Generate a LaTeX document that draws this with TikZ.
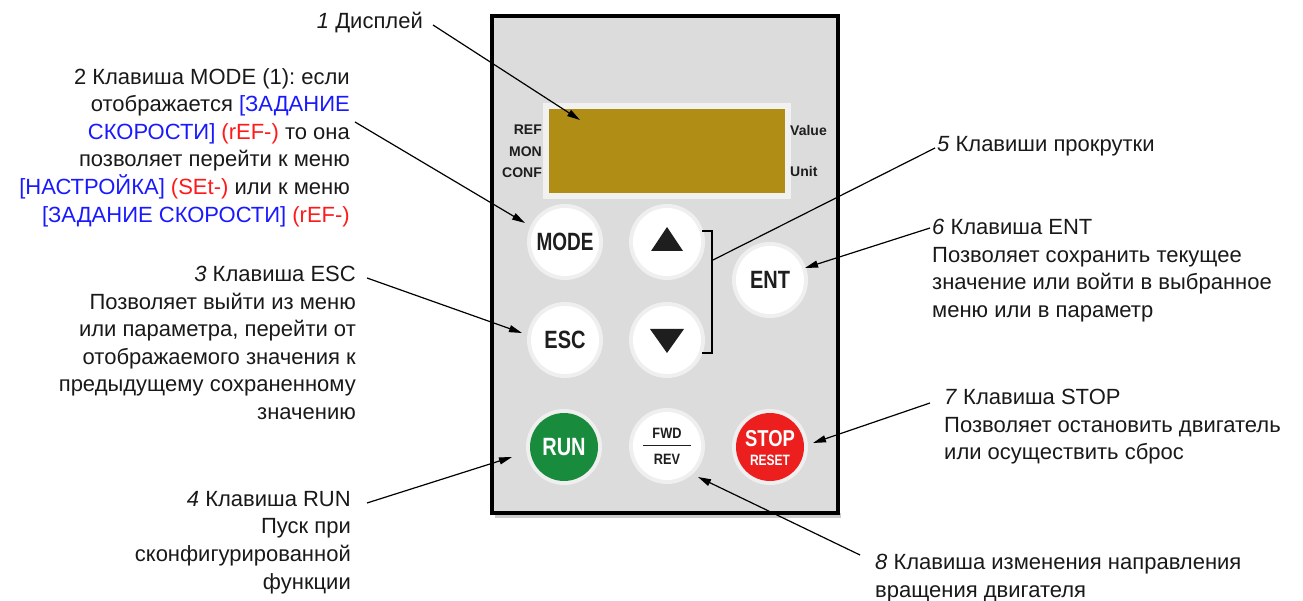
\documentclass[tikz,border=0pt]{standalone}
\usepackage{fontspec}
\setmainfont{Liberation Sans}
\usetikzlibrary{arrows.meta}
\definecolor{txtblue}{RGB}{25,25,255}
\definecolor{txtred}{RGB}{255,25,25}
\definecolor{panelgray}{RGB}{220,220,221}
\definecolor{lcdfill}{RGB}{176,142,22}
\definecolor{runGreen}{RGB}{24,140,60}
\definecolor{stopRed}{RGB}{236,30,30}
\definecolor{keyInk}{RGB}{30,30,30}
\frenchspacing
\begin{document}
\begin{tikzpicture}[x=1pt,y=-1pt,
  lbl/.style={inner sep=0pt, text=black!90, font=\fontsize{22}{27.6}\selectfont},
  lblR/.style={lbl, align=right, anchor=north east},
  lblL/.style={lbl, align=left, anchor=north west},
  conn/.style={line width=1.2pt, -{Triangle[length=13pt,width=7pt]}},
  plainconn/.style={line width=1.2pt},
  keyhalo/.style={circle, fill=white!55!panelgray, minimum size=76pt, inner sep=0pt},
  keybtn/.style={circle, fill=white, minimum size=68pt, inner sep=0pt, text=keyInk,
    font=\fontsize{25}{25}\bfseries\selectfont},
  keysmall/.style={inner sep=0pt, text=keyInk, font=\fontsize{15}{15}\bfseries\selectfont},
  lcdlbl/.style={inner sep=0pt, text=keyInk, font=\fontsize{14}{14}\bfseries\selectfont}
]
\useasboundingbox (0,0) rectangle (1303,601);

% panel
\fill[gray!40] (495,513) rectangle (841,518);
\draw[line width=3.5pt, fill=panelgray] (492,16) rectangle (838,513);

% display
\fill[white!60!panelgray] (543,103) rectangle (791,199);
\node[fill=lcdfill, minimum width=236pt, minimum height=84pt, inner sep=0pt] (lcd) at (667,151) {};
\node[lcdlbl, anchor=east] (ref) at (542,130) {REF};
\node[lcdlbl, anchor=east] (mon) at (542,152) {MON};
\node[lcdlbl, anchor=east] (conf) at (542,173) {CONF};
\node[lcdlbl, anchor=west] (val) at (790,130) {Value};
\node[lcdlbl, anchor=west] (unit) at (790,171) {Unit};

% keys
\node[keyhalo] (hmode) at (565,242) {};
\node[keybtn] (mode) at (565,242) {\scalebox{0.76}[1]{MODE}};
\node[keyhalo] (hup) at (667,242) {};
\node[keybtn] (up) at (667,242) {};
\fill[keyInk] (651,251) -- (683,251) -- (667,227) -- cycle;
\node[keyhalo] (hent) at (770,280) {};
\node[keybtn] (ent) at (770,280) {\scalebox{0.8}[1]{ENT}};
\node[keyhalo] (hesc) at (565,340) {};
\node[keybtn] (esc) at (565,340) {\scalebox{0.8}[1]{ESC}};
\node[keyhalo] (hdown) at (667,340) {};
\node[keybtn] (down) at (667,340) {};
\fill[keyInk] (650,329) -- (684,329) -- (667,353) -- cycle;
\node[keyhalo] (hrun) at (564,447) {};
\node[keybtn, fill=runGreen, text=white] (run) at (564,447) {\scalebox{0.8}[1]{RUN}};
\node[keyhalo] (hfwd) at (667,446) {};
\node[keybtn] (fwd) at (667,446) {};
\node[keysmall] (fwdt) at (667,433) {\scalebox{0.85}[1]{FWD}};
\node[keysmall] (revt) at (667,459) {\scalebox{0.85}[1]{REV}};
\draw[line width=1pt, keyInk] (643,445) -- (691,445);
\node[keyhalo] (hstop) at (770,447) {};
\node[keybtn, fill=stopRed] (stop) at (770,447) {};
\node[inner sep=0pt, text=white, font=\fontsize{23}{23}\bfseries\selectfont] (stopt) at (770,439) {\scalebox{0.8}[1]{STOP}};
\node[inner sep=0pt, text=white, font=\fontsize{15}{15}\bfseries\selectfont] (resett) at (770,460) {\scalebox{0.8}[1]{RESET}};

% bracket of scroll keys
\draw[line width=2pt] (702,231) -- (712,231) -- (712,353) -- (702,353);

% labels
\node[lblR] (t1) at (423,12) {\textit{1} Дисплей};
\node[lblR] (t2) at (350,68) {2 Клавиша MODE (1): если\\
отображается \textcolor{txtblue}{[ЗАДАНИЕ}\\
\textcolor{txtblue}{СКОРОСТИ]} \textcolor{txtred}{(rEF-)} то она\\
позволяет перейти к меню\\
\textcolor{txtblue}{[НАСТРОЙКА]} \textcolor{txtred}{(SEt-)} или к меню\\
\textcolor{txtblue}{[ЗАДАНИЕ СКОРОСТИ]} \textcolor{txtred}{(rEF-)}};
\node[lblR] (t3) at (356,266) {\textit{3} Клавиша ESC\\
Позволяет выйти из меню\\
или параметра, перейти от\\
отображаемого значения к\\
предыдущему сохраненному\\
значению};
\node[lblR] (t4) at (351,491) {\textit{4} Клавиша RUN\\
Пуск при\\
сконфигурированной\\
функции};
\node[lblL] (t5) at (937,136) {\textit{5} Клавиши прокрутки};
\node[lblL] (t6) at (932,219) {\textit{6} Клавиша ENT\\
Позволяет сохранить текущее\\
значение или войти в выбранное\\
меню или в параметр};
\node[lblL] (t7) at (944,389) {\textit{7} Клавиша STOP\\
Позволяет остановить двигатель\\
или осуществить сброс};
\node[lblL] (t8) at (875,554) {\textit{8} Клавиша изменения направления\\
вращения двигателя};

% connector ends
\coordinate (s1) at (433,25);  \coordinate (e1) at (580,120);
\coordinate (s2) at (355,122); \coordinate (e2) at (525,223);
\coordinate (s3) at (367,278); \coordinate (e3) at (522,333);
\coordinate (s4) at (367,503); \coordinate (e4) at (512,457);
\coordinate (s5) at (935,148); \coordinate (e5) at (713,260);
\coordinate (s6) at (930,228); \coordinate (e6) at (805,268);
\coordinate (s7) at (930,403); \coordinate (e7) at (813,443);
\coordinate (s8) at (860,555); \coordinate (e8) at (698,477);

\draw[conn] (s1) -- (e1);
\draw[conn] (s2) -- (e2);
\draw[conn] (s3) -- (e3);
\draw[conn] (s4) -- (e4);
\draw[plainconn] (s5) -- (e5);
\draw[conn] (s6) -- (e6);
\draw[conn] (s7) -- (e7);
\draw[conn] (s8) -- (e8);
\end{tikzpicture}
\end{document}
